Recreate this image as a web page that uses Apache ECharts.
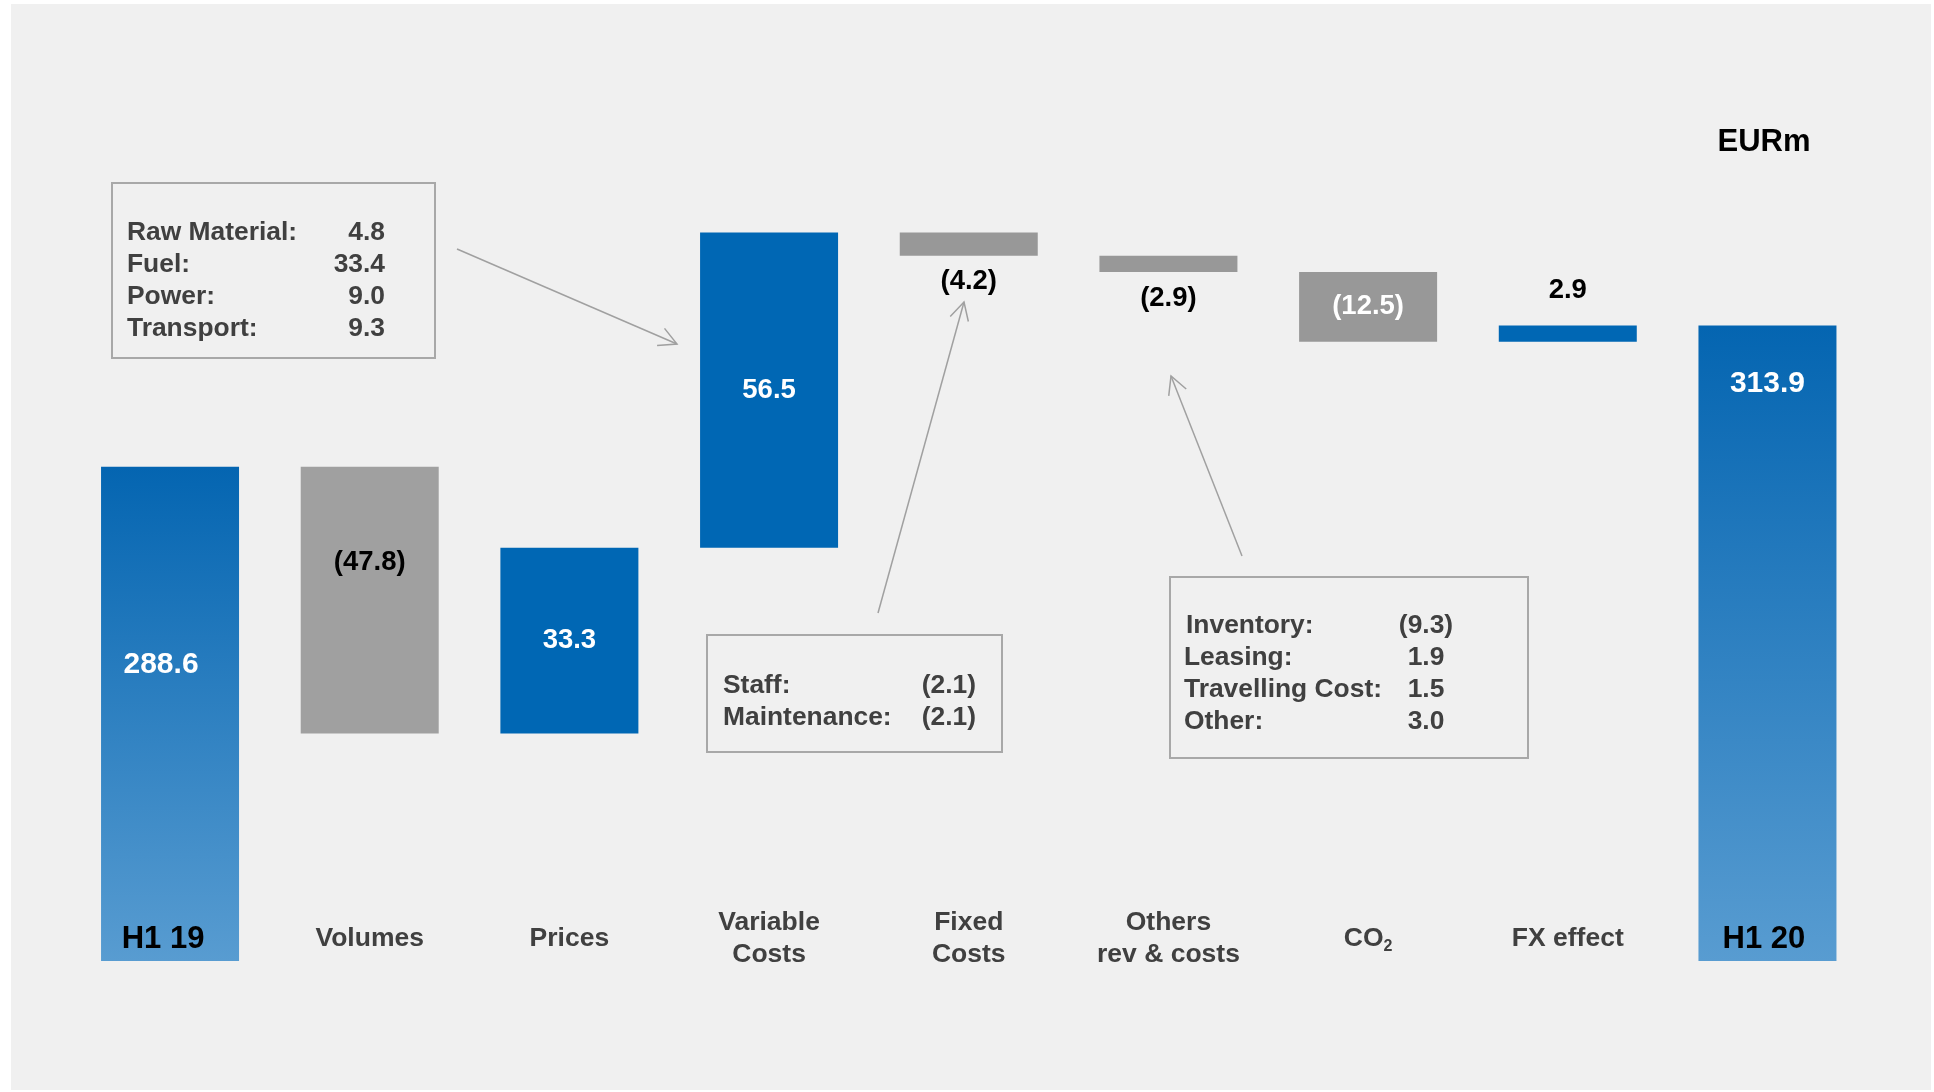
<!DOCTYPE html>
<html><head><meta charset="utf-8">
<script src="https://cdn.jsdelivr.net/npm/echarts@6/dist/echarts.min.js"></script>
<style>
html,body{margin:0;padding:0;background:#ffffff;overflow:hidden;}
#bg{position:absolute;left:11px;top:4px;width:1920px;height:1086px;background:#f0f0f0;}
#chart{position:absolute;left:0;top:0;width:1934px;height:1092px;}
</style></head>
<body><div id="bg"></div><div id="chart"></div>
<script>
// ---------- data ----------
const categories = ['H1 19', 'Volumes', 'Prices', 'Variable\nCosts', 'Fixed\nCosts', 'Others\nrev & costs', 'CO2', 'FX effect', 'H1 20'];
const values = [288.6, -47.8, 33.3, 56.5, -4.2, -2.9, -12.5, 2.9, 313.9];
const isTotal = [true, false, false, false, false, false, false, false, true];
const unitLabel = 'EURm';
const variableItems = ['Raw Material:', 'Fuel:', 'Power:', 'Transport:'];
const variableValues = ['4.8', '33.4', '9.0', '9.3'];
const fixedItems = ['Staff:', 'Maintenance:'];
const fixedValues = ['(2.1)', '(2.1)'];
const otherItems = ['Inventory:', 'Leasing:', 'Travelling Cost:', 'Other:'];
const otherValues = ['(9.3)', '1.9', '1.5', '3.0'];

// ---------- build waterfall ----------
const FONT = '"Liberation Sans", Arial, Helvetica, sans-serif';
const base = [], height = [];
let level = 0;
values.forEach((v, i) => {
  if (isTotal[i]) { base.push(0); height.push(v); level = v; }
  else if (v >= 0) { base.push(+level.toFixed(1)); height.push(v); level += v; }
  else { level += v; base.push(+level.toFixed(1)); height.push(-v); }
});
const fmt = v => v < 0 ? '(' + Math.abs(v).toFixed(1) + ')' : v.toFixed(1);

const totalGradient = new echarts.graphic.LinearGradient(0, 0, 0, 1, [
  { offset: 0, color: '#0465b1' }, { offset: 1, color: '#589cd1' }
]);
function colorFor(i) {
  if (isTotal[i]) return totalGradient;
  if (values[i] >= 0) return '#0067b4';
  return i === 1 ? '#a0a0a0' : '#989898';
}
function labelFor(i) {
  const white = { color: '#ffffff', fontSize: 27.5 };
  const black = { color: '#000000', fontSize: 27.5 };
  if (i === 0) return { position: [60, 198], align: 'center', verticalAlign: 'middle', color: '#fff', fontSize: 30 };
  if (i === values.length - 1) return { position: ['50%', 58], align: 'center', verticalAlign: 'middle', color: '#fff', fontSize: 30 };
  if (i === 1) return Object.assign({ position: ['50%', 96], align: 'center', verticalAlign: 'middle' }, black);
  if (height[i] > 8) return Object.assign({ position: 'inside' }, white);
  if (values[i] < 0) return Object.assign({ position: 'bottom', distance: 12 }, black);
  return Object.assign({ position: 'top', distance: 21 }, black);
}

// ---------- annotations ----------
const gray = '#a0a0a0', txt = '#404040';
function textEl(text, x, y, align) {
  return { type: 'text', z: 50, style: { text, x, y, align, verticalAlign: 'middle', fill: txt,
    fontSize: 26.4, fontWeight: 'bold', fontFamily: FONT } };
}
function boxEl(x, y, w, h) {
  return { type: 'rect', z: 50, shape: { x, y, width: w, height: h },
    style: { fill: null, stroke: '#a8a8a8', lineWidth: 2 } };
}
function arrowEls(x1, y1, x2, y2) {
  const a = Math.atan2(y1 - y2, x1 - x2), L = 20, d = 28 * Math.PI / 180;
  return [
    { type: 'line', z: 50, shape: { x1, y1, x2, y2 }, style: { stroke: gray, lineWidth: 1.5 } },
    { type: 'polyline', z: 50, shape: { points: [
      [x2 + L * Math.cos(a + d), y2 + L * Math.sin(a + d)], [x2, y2],
      [x2 + L * Math.cos(a - d), y2 + L * Math.sin(a - d)]] },
      style: { stroke: gray, lineWidth: 1.5, fill: null } }
  ];
}
const graphics = [];
graphics.push(boxEl(112, 183, 323, 175));
variableItems.forEach((t, k) => {
  graphics.push(textEl(t, 127, 233 + k * 32, 'left'));
  graphics.push(textEl(variableValues[k], 385, 233 + k * 32, 'right'));
});
graphics.push(boxEl(707, 635, 295, 117));
fixedItems.forEach((t, k) => {
  graphics.push(textEl(t, 723, 686 + k * 32, 'left'));
  graphics.push(textEl(fixedValues[k], 976, 686 + k * 32, 'right'));
});
graphics.push(boxEl(1170, 577, 358, 181));
otherItems.forEach((t, k) => {
  graphics.push(textEl(t, k === 0 ? 1186 : 1184, 626 + k * 32, 'left'));
  graphics.push(textEl(otherValues[k], 1426, 626 + k * 32, 'center'));
});
graphics.push(...arrowEls(457, 249, 677, 344));
graphics.push(...arrowEls(878, 613, 964, 302));
graphics.push(...arrowEls(1242, 556, 1171, 376));
graphics.push({ type: 'text', z: 50, style: { text: unitLabel, x: 1764, y: 142, align: 'center', verticalAlign: 'middle',
  fill: '#000', fontSize: 31, fontWeight: 'bold', fontFamily: FONT } });

// ---------- chart ----------
const chart = echarts.init(document.getElementById('chart'), null, { renderer: 'canvas' });
chart.setOption({
  animation: false,
  backgroundColor: 'transparent',
  textStyle: { fontFamily: FONT },
  grid: { left: 70.2, right: 66.7, top: 180, bottom: 131, containLabel: false, outerBoundsMode: 'none' },
  xAxis: {
    type: 'category', data: categories, z: 10,
    axisLine: { show: false }, axisTick: { show: false }, splitLine: { show: false },
    axisLabel: {
      interval: 0, margin: -22, verticalAlign: 'middle', align: 'center',
      formatter: (name, idx) => {
        if (name === 'H1 19') return '{totA|' + name + '}';
        if (name === 'H1 20') return '{totB|' + name + '}';
        if (name === 'CO2') return '{cat|CO}{sub|2}';
        return name.split('\n').map(s => '{cat|' + s + '}').join('\n');
      },
      rich: {
        cat: { fontSize: 26.5, fontWeight: 'bold', color: txt, lineHeight: 32, fontFamily: FONT },
        totA: { fontSize: 31, fontWeight: 'bold', color: '#000', lineHeight: 34, fontFamily: FONT, padding: [0, 14, 0, 0] },
        totB: { fontSize: 31, fontWeight: 'bold', color: '#000', lineHeight: 34, fontFamily: FONT, padding: [0, 7, 0, 0] },
        sub: { fontSize: 16, fontWeight: 'bold', color: txt, lineHeight: 16, verticalAlign: 'bottom', fontFamily: FONT }
      }
    }
  },
  yAxis: {
    type: 'value', min: 0, max: 340, show: false,
    splitLine: { show: false },
    breaks: [{ start: 20, end: 220, gap: 0 }],
    breakArea: { show: false }
  },
  series: [
    { type: 'bar', stack: 'w', data: base, barWidth: 138, silent: true,
      itemStyle: { color: 'rgba(0,0,0,0)' }, label: { show: false } },
    { type: 'bar', stack: 'w', barWidth: 138,
      label: { show: true, fontWeight: 'bold', fontFamily: FONT, formatter: p => fmt(values[p.dataIndex]) },
      data: height.map((h, i) => ({ value: h, itemStyle: { color: colorFor(i) }, label: labelFor(i) })) }
  ],
  graphic: graphics
});
</script>
</body></html>
